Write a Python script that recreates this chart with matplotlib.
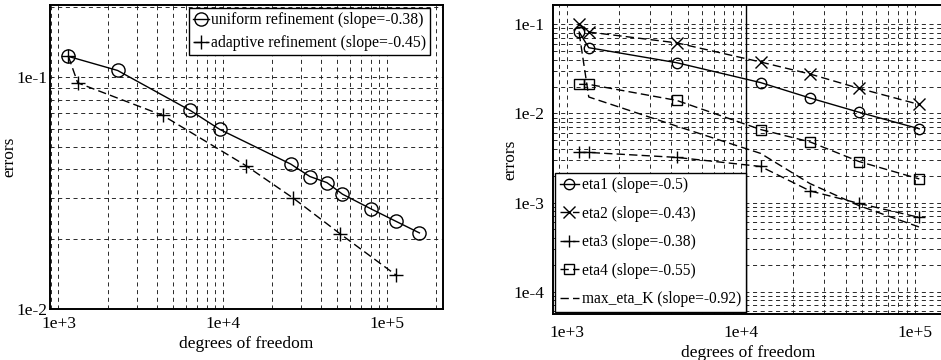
import numpy as np
import matplotlib.pyplot as plt
from matplotlib.ticker import LogLocator, FuncFormatter, NullFormatter

plt.rcParams['font.family'] = ['Liberation Serif', 'DejaVu Serif']
plt.rcParams['font.size'] = 12

# left panel: uniform vs adaptive refinement
uniform_dofs = [1150, 2290, 6350, 9590, 26000, 34000, 43200, 53700, 80500, 113700, 158000]
uniform_err = [0.123, 0.107, 0.0719, 0.0596, 0.0422, 0.0373, 0.0351, 0.0313, 0.0270, 0.0239, 0.0213]
adaptive_dofs = [1150, 1310, 4310, 13900, 26900, 52000, 114000]
adaptive_err = [0.123, 0.0946, 0.0685, 0.0415, 0.0301, 0.0211, 0.0140]

# right panel: estimator contributions
eta_dofs = [1180, 1340, 4290, 13000, 25000, 47900, 106000]
eta1 = [0.082, 0.0547, 0.0371, 0.0222, 0.0149, 0.0103, 0.00672]
eta2 = [0.102, 0.082, 0.062, 0.0378, 0.0277, 0.0191, 0.0126]
eta3 = [0.00365, 0.00365, 0.00321, 0.00254, 0.00135, 0.000975, 0.00068]
eta4 = [0.0212, 0.0212, 0.014, 0.0066, 0.00479, 0.00288, 0.00184]
max_eta_K = [0.08, 0.0153, 0.0072, 0.00356, 0.00163, 0.00092, 0.00053]

dash = (0, (6, 3))


def expfmt(sign):
    def f(v, pos):
        e = int(round(np.log10(v)))
        return ('1e%+d' if sign else '1e%d') % e
    return FuncFormatter(f)


def style(ax, ypad, xpad, ylab_x):
    ax.set_xscale('log')
    ax.set_yscale('log')
    ax.xaxis.set_major_locator(LogLocator(base=10))
    ax.xaxis.set_minor_locator(LogLocator(base=10, subs=np.arange(2, 10)))
    ax.yaxis.set_major_locator(LogLocator(base=10))
    ax.yaxis.set_minor_locator(LogLocator(base=10, subs=np.arange(2, 10)))
    ax.xaxis.set_major_formatter(expfmt(True))
    ax.yaxis.set_major_formatter(expfmt(False))
    ax.xaxis.set_minor_formatter(NullFormatter())
    ax.yaxis.set_minor_formatter(NullFormatter())
    ax.tick_params(which='both', length=0, labelsize=12.5)
    ax.tick_params(axis='x', pad=xpad)
    ax.tick_params(axis='y', pad=ypad)
    ax.grid(True, which='both', color='0.1', lw=0.65, ls=(0, (4.5, 4)))
    ax.set_axisbelow(True)
    for s in ax.spines.values():
        s.set_linewidth(1.4)
    ax.set_xlabel('degrees of freedom', labelpad=3, fontsize=12.5)
    ax.set_ylabel('errors', fontsize=12.5)
    ax.yaxis.set_label_coords(ylab_x, 0.5)


fig = plt.figure(figsize=(9.41, 3.6), dpi=100)

ax1 = fig.add_axes([50 / 941, 1 - 309 / 360, 393 / 941, 304 / 360])
style(ax1, 2, 5, -0.082)
ax1.plot(uniform_dofs, uniform_err, 'k-', marker='o', mfc='none', ms=9.5, mew=1, lw=1,
         label='uniform refinement (slope=-0.38)')
ax1.plot(adaptive_dofs, adaptive_err, color='k', ls=dash, marker='+', ms=10, mew=1, lw=1,
         label='adaptive refinement (slope=-0.45)')
ax1.set_xlim(888, 2.2e5)
ax1.set_ylim(0.01, 0.205)
ax1.legend(loc='upper right', fancybox=False, edgecolor='k', framealpha=1,
           handlelength=1.0, handletextpad=0.15, borderpad=0.25, labelspacing=0.45,
           borderaxespad=0.2, fontsize=11.3, bbox_to_anchor=(0.975, 1.0)).get_frame().set_linewidth(1.0)

ax2 = fig.add_axes([553 / 941, 1 - 314 / 360, 391 / 941, 309 / 360])
style(ax2, 6, 8, -0.088)
ax2.spines['right'].set_visible(False)
ax2.plot(eta_dofs, eta1, 'k-', marker='o', mfc='none', ms=7.5, mew=1, lw=1,
         label='eta1 (slope=-0.5)')
ax2.plot(eta_dofs, eta2, color='k', ls=dash, marker='x', ms=8, mew=1, lw=1,
         label='eta2 (slope=-0.43)')
ax2.plot(eta_dofs, eta3, color='k', ls=dash, marker='+', ms=9, mew=1, lw=1,
         label='eta3 (slope=-0.38)')
ax2.plot(eta_dofs, eta4, color='k', ls=dash, marker='s', mfc='none', ms=7.5, mew=1, lw=1,
         label='eta4 (slope=-0.55)')
ax2.plot(eta_dofs, max_eta_K, color='k', ls=dash, lw=1,
         label='max_eta_K (slope=-0.92)')
ax2.set_xlim(835, 1.47e5)
ax2.set_ylim(5.6e-5, 0.165)
leg2 = ax2.legend(loc='lower left', fancybox=False, edgecolor='k', framealpha=1,
                  handlelength=1.2, handletextpad=0.2, borderpad=0.3, labelspacing=0.8,
                  borderaxespad=0.15, fontsize=11.2)
leg2.get_frame().set_linewidth(1.0)

# the legend box edge runs up to the top of the axes in the original
fig.canvas.draw()
bb = leg2.get_window_extent().transformed(ax2.transAxes.inverted())
ax2.plot([bb.x1, bb.x1], [0, 1], transform=ax2.transAxes, color='k', lw=1.0, zorder=1)

fig.savefig('out.png', dpi=100)
